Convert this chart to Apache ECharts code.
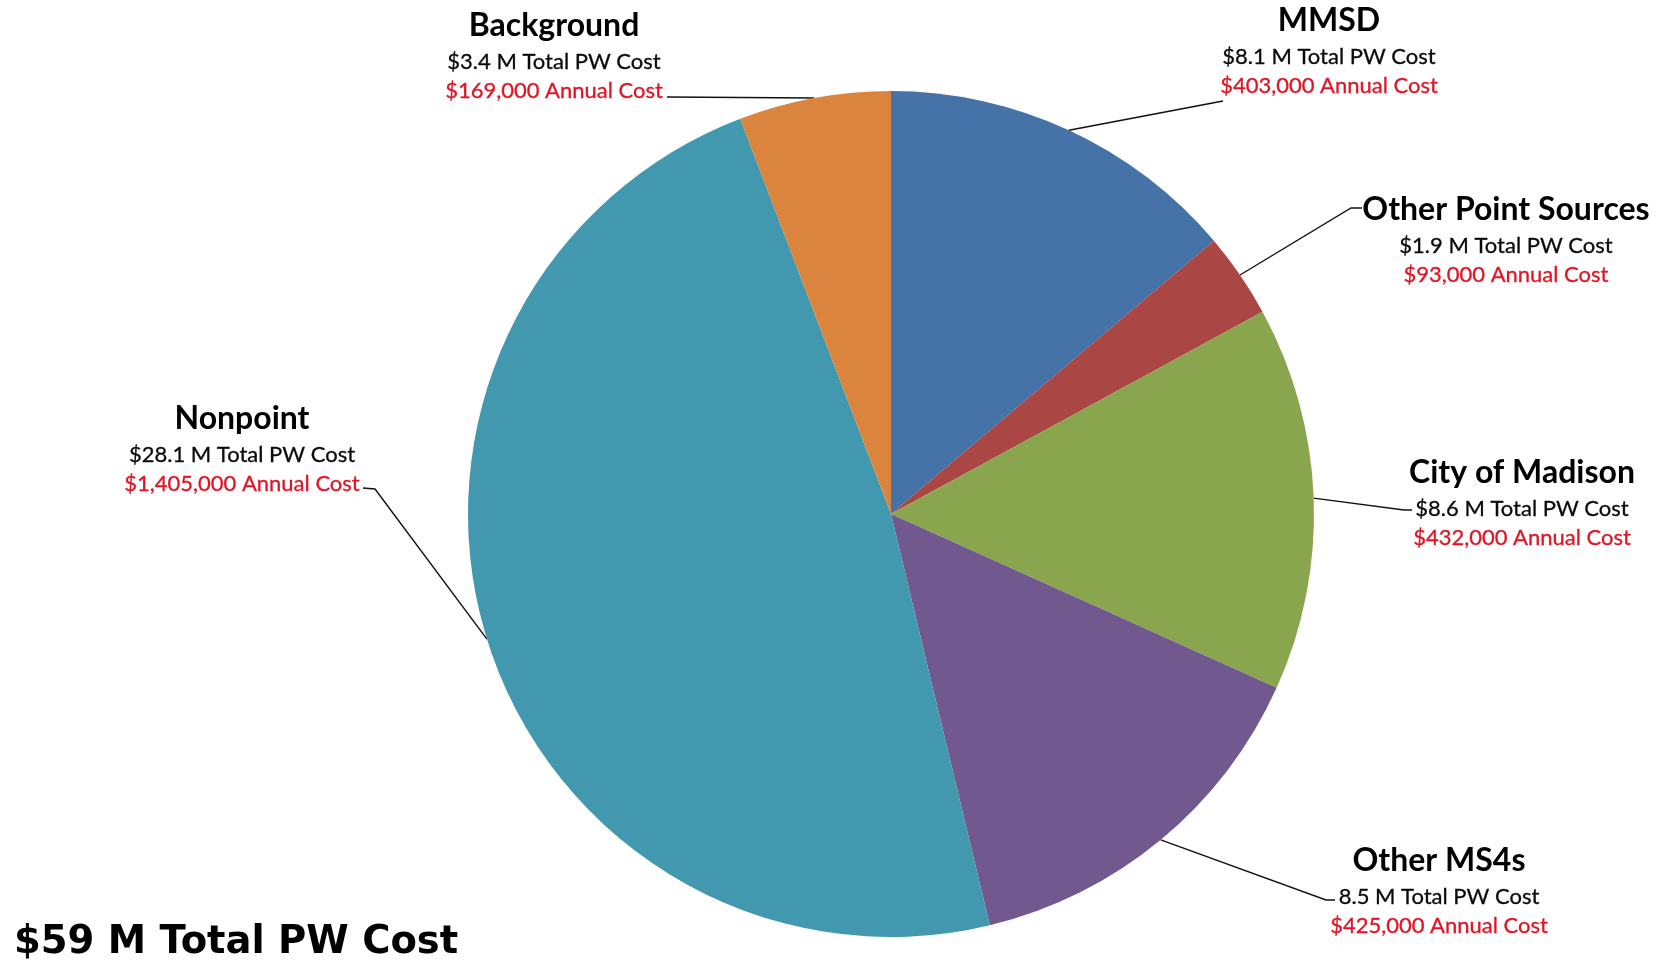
<!DOCTYPE html>
<html><head><meta charset="utf-8">
<script src="https://cdn.jsdelivr.net/npm/echarts@6/dist/echarts.min.js"></script>
<style>html,body{margin:0;padding:0;background:#fff}#c{width:1664px;height:960px}</style>
</head><body><div id="c"></div>
<script>
const categories = ['MMSD', 'Other Point Sources', 'City of Madison', 'Other MS4s', 'Nonpoint', 'Background'];
const pwCost = [8.1, 1.9, 8.6, 8.5, 28.1, 3.4];          // $ M total present-worth cost
const pwPrefix = ['$', '$', '$', '', '$', '$'];
const annualCost = [403000, 93000, 432000, 425000, 1405000, 169000];
const totalLabel = '$59 M Total PW Cost';
const sliceColors = ['#4572A7', '#AA4643', '#89A54E', '#71588F', '#4198AF', '#DB843D'];

// label block placement: centre x, top y, and leader-line end (bend, end)
const labelPlace = [
  { x: 1329, y: 0,   bend: [1223, 101], end: [1223, 101] },
  { x: 1506, y: 189, bend: [1351, 208], end: [1362, 208] },
  { x: 1522, y: 452, bend: [1404, 510], end: [1412, 510] },
  { x: 1439, y: 840, bend: [1326, 900], end: [1335, 900] },
  { x: 242,  y: 398, bend: [375, 489],  end: [363, 488] },
  { x: 554,  y: 5,   bend: [667, 97],   end: [667, 97] }
];

const chart = echarts.init(document.getElementById('c'), null, { renderer: 'canvas' });
chart.setOption({
  animation: false,
  backgroundColor: '#fff',
  title: {
    text: totalLabel, left: 14, top: 923, padding: 0,
    textStyle: { fontFamily: 'DejaVu Sans', fontWeight: 'bold', fontSize: 38.5, color: '#000' }
  },
  series: [{
    type: 'pie',
    center: [891, 514],
    radius: 423,
    startAngle: 90,
    clockwise: true,
    avoidLabelOverlap: false,
    data: categories.map((c, i) => ({ name: c, value: pwCost[i], itemStyle: { color: sliceColors[i] } })),
    itemStyle: { borderWidth: 0 },
    emphasis: { disabled: true },
    label: {
      show: true,
      position: 'outside',
      formatter: p => {
        const i = p.dataIndex;
        return '{t|' + categories[i] + '}\n{s|' + pwPrefix[i] + pwCost[i].toFixed(1) + ' M Total PW Cost}\n{r|$' +
          annualCost[i].toLocaleString('en-US') + ' Annual Cost}';
      },
      rich: {
        t: { fontFamily: 'Lato', fontWeight: 'bold', fontSize: 32, lineHeight: 42, color: '#000', align: 'center' },
        s: { fontFamily: 'Lato', fontSize: 22, lineHeight: 29, color: '#0a0a0a', align: 'center',
             textBorderColor: '#0a0a0a', textBorderWidth: 0.3 },
        r: { fontFamily: 'Lato', fontSize: 22, lineHeight: 29, color: '#e01424', align: 'center',
             textBorderColor: '#e01424', textBorderWidth: 0.3 }
      }
    },
    labelLine: { show: true, length: 20, length2: 10, lineStyle: { color: '#111', width: 1.4 } },
    labelLayout: params => {
      const lp = labelPlace[params.dataIndex];
      const start = params.labelLinePoints ? params.labelLinePoints[0] : lp.bend;
      return {
        x: lp.x, y: lp.y, align: 'center', verticalAlign: 'top',
        labelLinePoints: [start, lp.bend, lp.end]
      };
    }
  }]
});
</script></body></html>
